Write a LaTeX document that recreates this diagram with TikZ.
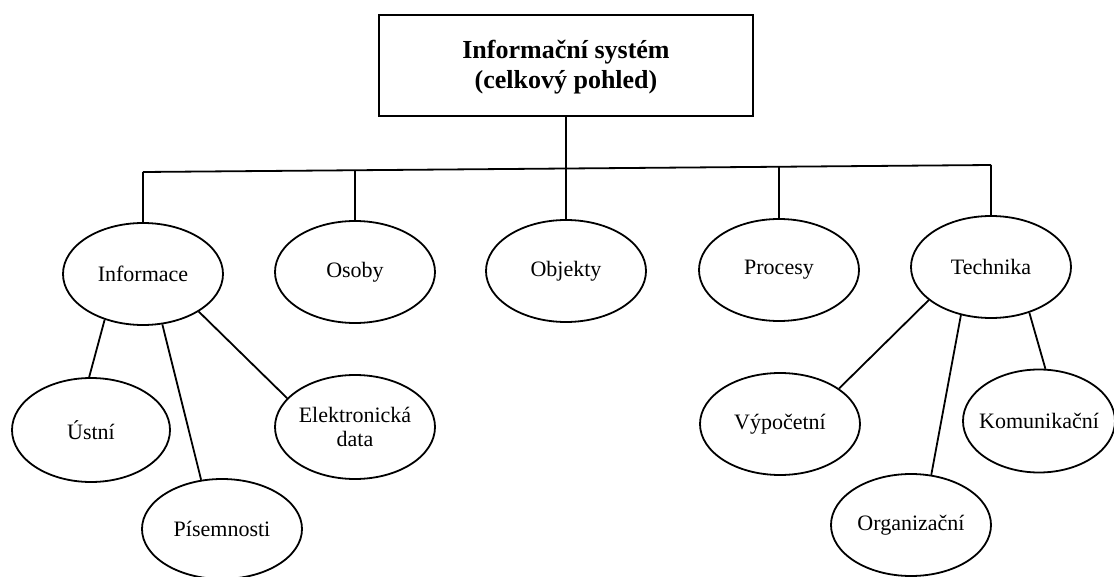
\documentclass[tikz,border=0pt]{standalone}
\usepackage{fontspec}
\setmainfont{Liberation Serif}
\usetikzlibrary{shapes.geometric}
\begin{document}
\begin{tikzpicture}[x=1pt,y=-1pt,
  blob/.style={ellipse, draw, line width=1.8pt, inner sep=0pt,
    minimum width=160pt, minimum height=102pt},
  lbl/.style={font=\fontsize{22}{24}\selectfont, align=center, inner sep=0pt},
  headbox/.style={draw, line width=1.8pt, minimum width=374pt,
    minimum height=101pt, inner sep=0pt},
  headtxt/.style={font=\bfseries\fontsize{26}{30}\selectfont, align=center, inner sep=0pt},
  link/.style={line width=1.8pt}]
\useasboundingbox (0,0) rectangle (1114,577);

% root box
\node[headbox] (top) at (566,65.5) {};
\node[headtxt] (top-t) at (566,67) {Informační systém\\(celkový pohled)};

% bus joining the five branches
\coordinate (b1) at (143,172);
\coordinate (b2) at (355,170.3);
\coordinate (b3) at (566,168.5);
\coordinate (b4) at (779,166.8);
\coordinate (b5) at (991,165);

% first level
\node[blob] (inf) at (143,274) {};
\node[lbl] (inf-t) at (inf) {Informace};
\node[blob] (oso) at (355,272) {};
\node[lbl] (oso-t) at (oso) {Osoby};
\node[blob] (obj) at (566,271) {};
\node[lbl] (obj-t) at (obj) {Objekty};
\node[blob] (pro) at (779,270) {};
\node[lbl] (pro-t) at (pro) {Procesy};
\node[blob] (tec) at (991,267) {};
\node[lbl] (tec-t) at (tec) {Technika};

% second level under Informace
\node[blob, minimum width=158pt, minimum height=104pt] (ust) at (91,430) {};
\node[lbl] (ust-t) at (ust) {Ústní};
\node[blob, minimum height=100pt] (pis) at (222,529) {};
\node[lbl] (pis-t) at (pis) {Písemnosti};
\node[blob, minimum height=104pt] (ele) at (355,427) {};
\node[lbl] (ele-t) at (ele) {Elektronická\\data};

% second level under Technika
\node[blob] (vyp) at (780,424) {};
\node[lbl] (vyp-t) at (vyp) {Výpočetní};
\node[blob] (org) at (911,525) {};
\node[lbl] (org-t) at (org) {Organizační};
\node[blob, minimum width=152pt, minimum height=103pt] (kom) at (1039,421) {};
\node[lbl] (kom-t) at (kom) {Komunikační};

% connectors
\draw[link] (top.south) -- (b3) -- (obj.north);
\draw[link] (b1) -- (b5);
\draw[link] (b1) -- (inf.north);
\draw[link] (b2) -- (oso.north);
\draw[link] (b4) -- (pro.north);
\draw[link] (b5) -- (tec.north);

\draw[link] (inf.230) -- (ust.92);
\draw[link] (inf.291) -- (pis.113);
\draw[link] (inf.326) -- (ele.157);

\draw[link] (tec.208) -- (vyp.31);
\draw[link] (tec.238) -- (org.68);
\draw[link] (tec.310) -- (kom.83);
\end{tikzpicture}
\end{document}
